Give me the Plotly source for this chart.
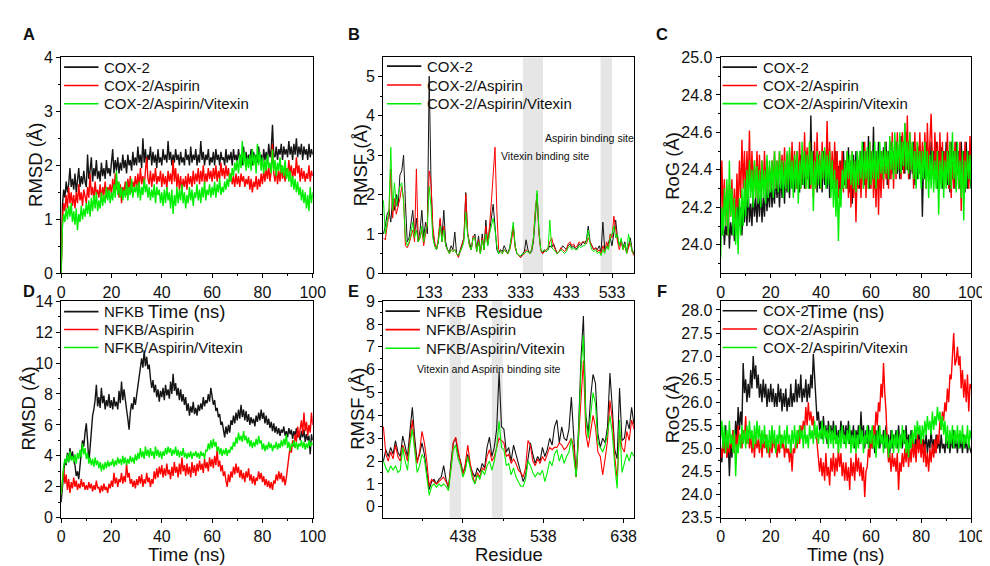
import plotly.graph_objects as go

# ---------------- DATA ----------------
time_ns = [i * 0.5 for i in range(201)]

# Panel A: RMSD COX-2
rmsd_cox2 = [
 0.0, 1.25, 1.55, 1.4, 1.7, 1.5, 1.65, 1.95, 1.6, 1.75,
 1.55, 1.85, 1.5, 1.7, 1.95, 1.6, 1.8, 1.65, 1.9, 1.7,
 1.6, 2.2, 1.75, 1.9, 2.15, 1.7, 1.95, 1.8, 2.1, 1.75,
 1.9, 1.7, 2.05, 1.8, 1.95, 1.75, 2.1, 1.85, 1.95, 1.8,
 2.0, 2.3, 1.85, 2.1, 1.9, 2.15, 1.85, 2.05, 1.9, 2.2,
 1.95, 2.1, 1.85, 2.2, 2.0, 2.1, 1.9, 2.25, 2.0, 2.15,
 2.0, 2.35, 2.05, 2.2, 1.95, 2.5, 2.05, 2.3, 2.0, 2.2,
 2.1, 2.35, 2.0, 2.25, 2.05, 2.2, 1.95, 2.3, 2.05, 2.15,
 2.0, 2.3, 2.1, 2.2, 2.05, 2.45, 2.1, 2.25, 2.0, 2.2,
 2.05, 2.3, 2.1, 2.2, 2.0, 2.25, 2.05, 2.15, 2.0, 2.3,
 2.1, 2.2, 2.0, 2.35, 2.05, 2.2, 2.1, 2.3, 2.0, 2.2,
 2.05, 2.45, 2.1, 2.25, 2.0, 2.2, 2.1, 2.3, 2.0, 2.15,
 2.05, 2.25, 2.0, 2.3, 2.1, 2.2, 2.0, 2.25, 2.1, 2.15,
 2.0, 2.3, 2.05, 2.2, 2.1, 2.25, 2.0, 2.3, 2.1, 2.2,
 2.05, 2.3, 2.1, 2.2, 2.0, 2.35, 2.1, 2.25, 2.05, 2.2,
 2.1, 2.3, 2.0, 2.25, 2.1, 2.2, 2.05, 2.35, 2.1, 2.2,
 2.0, 2.3, 2.1, 2.25, 2.05, 2.4, 2.15, 2.3, 2.75, 2.2,
 2.15, 2.35, 2.1, 2.3, 2.2, 2.4, 2.1, 2.35, 2.2, 2.3,
 2.15, 2.45, 2.2, 2.35, 2.1, 2.4, 2.2, 2.5, 2.15, 2.35,
 2.2, 2.4, 2.1, 2.35, 2.2, 2.3, 2.1, 2.4, 2.15, 2.3,
 2.2]
rmsd_cox2_asp = [
 0.0, 1.0, 1.3, 1.15, 1.45, 1.2, 1.6, 1.3, 1.5, 1.25,
 1.45, 1.2, 1.5, 1.3, 1.65, 1.35, 1.5, 1.25, 1.55, 1.4,
 1.3, 1.6, 1.4, 1.85, 1.45, 1.6, 1.35, 1.7, 1.45, 1.55,
 1.4, 1.65, 1.35, 1.6, 1.45, 1.7, 1.4, 1.6, 1.5, 1.65,
 1.45, 1.75, 1.5, 1.85, 1.55, 1.7, 1.4, 1.65, 1.3, 1.6,
 1.5, 1.7, 1.45, 1.75, 1.55, 1.8, 1.5, 1.7, 1.6, 1.8,
 1.55, 1.85, 1.6, 1.95, 1.65, 1.8, 1.6, 1.9, 2.15, 1.75,
 1.65, 1.9, 1.6, 1.85, 1.7, 1.95, 1.65, 1.8, 1.7, 1.9,
 1.6, 1.85, 1.65, 1.8, 1.55, 1.9, 1.7, 1.85, 1.65, 2.1,
 1.7, 1.95, 1.6, 1.85, 1.55, 1.8, 1.5, 1.75, 1.6, 1.8,
 1.55, 1.85, 1.65, 1.8, 1.6, 1.9, 1.65, 1.85, 1.7, 1.95,
 1.65, 1.9, 1.7, 2.0, 1.65, 1.85, 1.7, 1.95, 1.75, 1.9,
 1.7, 1.95, 1.75, 2.0, 1.7, 1.9, 1.75, 2.05, 1.8, 1.95,
 1.75, 2.0, 1.8, 1.95, 1.7, 1.85, 1.65, 1.8, 1.6, 1.85,
 1.65, 1.8, 1.6, 1.85, 1.7, 1.8, 1.6, 1.75, 1.65, 1.8,
 1.55, 1.75, 1.5, 1.7, 1.6, 1.8, 1.55, 1.75, 1.6, 1.85,
 1.65, 1.9, 1.7, 1.95, 1.75, 2.0, 1.7, 1.9, 2.4, 1.85,
 1.7, 1.95, 1.65, 1.9, 1.7, 2.0, 1.75, 1.9, 1.7, 1.95,
 1.8, 2.1, 1.85, 2.0, 1.75, 1.95, 1.8, 2.15, 1.85, 2.0,
 1.7, 1.95, 1.75, 1.9, 1.7, 1.85, 1.75, 2.0, 1.7, 1.9,
 1.8]
rmsd_cox2_asp_vit = [
 0.0, 0.85, 1.1, 0.95, 1.2, 1.0, 1.25, 1.05, 1.3, 0.95,
 1.15, 0.9, 1.2, 0.8, 1.1, 0.95, 1.25, 1.0, 1.2, 1.05,
 1.3, 1.1, 1.35, 1.05, 1.4, 1.15, 1.45, 1.2, 1.5, 1.15,
 1.35, 1.2, 1.5, 1.25, 1.45, 1.3, 1.6, 1.35, 1.55, 1.3,
 1.5, 1.35, 1.65, 1.4, 1.9, 1.45, 1.7, 1.4, 1.6, 1.35,
 1.55, 1.4, 1.7, 1.35, 1.6, 1.45, 1.75, 1.4, 1.6, 1.5,
 1.65, 1.4, 1.7, 1.35, 1.6, 1.45, 1.75, 1.5, 1.65, 1.4,
 1.6, 1.35, 1.55, 1.4, 1.65, 1.3, 1.6, 1.45, 1.55, 1.3,
 1.5, 1.25, 1.55, 1.3, 1.6, 1.35, 1.5, 1.2, 1.55, 1.1,
 1.45, 1.25, 1.6, 1.3, 1.55, 1.35, 1.65, 1.3, 1.5, 1.2,
 1.45, 1.3, 1.6, 1.35, 1.55, 1.25, 1.5, 1.4, 1.65, 1.35,
 1.55, 1.3, 1.6, 1.4, 1.7, 1.35, 1.55, 1.45, 1.65, 1.4,
 1.6, 1.45, 1.7, 1.4, 1.65, 1.5, 1.75, 1.45, 1.6, 1.5,
 1.7, 1.55, 1.75, 1.6, 1.85, 1.7, 1.95, 1.8, 2.05, 1.9,
 2.1, 1.85, 2.2, 1.95, 2.45, 2.0, 2.25, 1.9, 2.15, 1.95,
 2.2, 1.9, 2.3, 2.0, 2.2, 1.85, 2.4, 2.0, 2.25, 1.9,
 2.15, 1.85, 2.1, 1.9, 2.2, 1.95, 2.05, 1.85, 2.3, 1.9,
 2.1, 1.8, 2.05, 1.9, 2.15, 1.85, 2.0, 1.8, 2.1, 1.75,
 1.95, 1.7, 1.9, 1.6, 1.8, 1.55, 1.75, 1.5, 1.7, 1.45,
 1.6, 1.35, 1.55, 1.3, 1.5, 1.2, 1.45, 1.15, 1.6, 1.3,
 1.5]

# Panel B: RMSF COX-2
res_cox2 = list(range(33, 582, 4))
rmsf_cox2 = [
 1.0, 1.2, 1.5, 1.6, 1.3, 1.9, 1.6, 2.0, 1.7, 2.5,
 2.6, 3.0, 1.8, 0.8, 0.9, 1.2, 1.6, 1.0, 1.4, 0.8,
 1.1, 1.6, 0.9, 1.3, 1.0, 5.0, 2.3, 1.0, 0.7, 0.6,
 0.8, 1.35, 0.9, 1.6, 0.8, 0.6, 0.55, 0.7, 0.6, 1.05,
 0.5, 0.45, 0.6, 0.7, 0.9, 2.05, 1.0, 0.8, 0.6, 0.9,
 1.0, 0.6, 0.95, 0.5, 1.0, 0.6, 1.35, 0.7, 1.1, 1.4,
 1.75, 1.2, 0.6, 0.5, 0.6, 0.55, 0.7, 0.6, 0.5, 0.65,
 0.9, 1.2, 0.7, 0.5, 0.45, 0.4, 0.5, 0.55, 0.85, 0.6,
 0.5, 0.55, 0.8, 1.5, 2.0, 1.1, 0.6, 0.5, 0.6, 0.55,
 0.6, 0.7, 0.65, 0.75, 0.6, 0.5, 0.55, 0.6, 0.7, 0.65,
 0.6, 0.7, 0.75, 0.65, 0.7, 0.6, 0.65, 0.75, 0.7, 0.8,
 0.75, 0.85, 1.2, 0.8, 0.7, 0.6, 0.65, 0.6, 0.7, 0.55,
 1.3, 0.6, 0.65, 0.8, 0.9, 0.7, 1.0, 1.35, 0.9, 0.7,
 0.85, 0.65, 0.8, 0.55, 0.7, 0.9, 0.6, 0.5]
rmsf_cox2_asp = [
 0.9, 0.85, 1.2, 1.5, 2.65, 1.4, 1.9, 1.5, 1.7, 1.9,
 2.2, 1.9, 0.7, 0.65, 0.75, 0.9, 1.1, 0.8, 2.65, 0.8,
 0.9, 1.1, 0.7, 1.0, 1.3, 2.6, 2.3, 1.2, 0.8, 0.6,
 0.9, 1.4, 0.8, 1.2, 0.7, 0.6, 0.5, 0.6, 0.55, 0.6,
 0.5, 0.4, 0.55, 0.7, 0.9, 2.0, 1.1, 0.7, 0.6, 0.95,
 0.9, 0.55, 0.85, 0.5, 0.9, 0.6, 1.2, 0.8, 1.2, 1.8,
 2.6, 3.2, 1.6, 0.6, 0.55, 0.5, 0.6, 0.55, 0.5, 0.6,
 0.8, 1.2, 0.65, 0.5, 0.45, 0.4, 0.45, 0.5, 0.6, 0.55,
 0.5, 0.6, 0.9, 1.6, 2.0, 1.0, 0.6, 0.5, 0.55, 0.6,
 0.65, 0.8, 0.9, 0.7, 0.6, 0.5, 0.55, 0.65, 0.6, 0.55,
 0.6, 0.75, 0.8, 0.7, 0.75, 0.65, 0.7, 0.8, 0.75, 0.8,
 0.8, 0.75, 0.9, 0.8, 0.7, 0.6, 0.65, 0.55, 0.6, 0.5,
 0.7, 0.55, 0.8, 0.65, 1.0, 0.9, 1.45, 1.1, 0.8, 0.6,
 0.8, 0.6, 0.7, 0.5, 0.65, 0.8, 0.55, 0.45]
rmsf_cox2_asp_vit = [
 1.85, 1.0, 1.3, 1.6, 3.2, 1.6, 2.3, 1.7, 2.0, 2.2,
 2.3, 1.8, 0.9, 0.7, 0.8, 1.0, 1.3, 0.9, 1.1, 0.8,
 0.9, 1.2, 0.8, 1.1, 1.2, 2.2, 1.7, 0.9, 0.7, 0.6,
 0.8, 1.2, 0.8, 1.1, 0.7, 0.6, 0.5, 0.6, 0.55, 0.6,
 0.5, 0.45, 0.55, 0.65, 0.8, 1.55, 1.0, 0.7, 0.6, 0.9,
 0.9, 0.55, 0.8, 0.5, 0.85, 0.6, 1.0, 0.7, 1.0, 1.2,
 1.4, 1.1, 0.7, 0.5, 0.55, 0.5, 0.6, 0.55, 0.5, 0.6,
 1.0, 1.3, 0.7, 0.5, 0.45, 0.45, 0.5, 0.5, 0.55, 0.55,
 0.5, 0.6, 0.9, 1.5, 2.1, 1.1, 0.6, 0.55, 0.6, 0.55,
 0.6, 1.35, 0.65, 0.6, 0.55, 0.5, 0.55, 0.6, 0.55, 0.5,
 0.55, 0.65, 0.7, 0.6, 0.65, 0.6, 0.6, 0.7, 0.65, 0.7,
 0.7, 0.8, 1.1, 0.75, 0.6, 0.55, 0.6, 0.5, 0.55, 0.45,
 0.6, 0.5, 0.7, 0.6, 0.9, 1.0, 1.2, 0.9, 1.0, 0.7,
 0.9, 0.6, 0.75, 0.5, 1.0, 0.8, 0.55, 0.5]
cox2_sites = [(338, 382), (508, 533)]

# Panel C: RoG COX-2
rog_cox2 = [
 24.2, 24.05, 24.15, 24.0, 24.1, 24.05, 24.2, 23.98, 24.12, 24.05,
 24.15, 24.02, 24.2, 24.08, 24.25, 24.1, 24.2, 24.05, 24.22, 24.12,
 24.25, 24.1, 24.3, 24.12, 24.22, 24.1, 24.28, 24.15, 24.25, 24.12,
 24.28, 24.15, 24.3, 24.12, 24.25, 24.15, 24.32, 24.18, 24.3, 24.2,
 24.35, 24.2, 24.3, 24.22, 24.38, 24.25, 24.35, 24.2, 24.4, 24.25,
 24.35, 24.22, 24.42, 24.28, 24.38, 24.25, 24.45, 24.3, 24.4, 24.28,
 24.45, 24.3, 24.42, 24.28, 24.48, 24.32, 24.45, 24.3, 24.5, 24.35,
 24.45, 24.3, 24.69, 24.35, 24.5, 24.32, 24.45, 24.28, 24.48, 24.3,
 24.42, 24.28, 24.5, 24.32, 24.45, 24.3, 24.48, 24.25, 24.42, 24.3,
 24.45, 24.28, 24.5, 24.3, 24.42, 24.25, 24.45, 24.3, 24.5, 24.32,
 24.45, 24.3, 24.52, 24.28, 24.45, 24.22, 24.48, 24.3, 24.5, 24.32,
 24.45, 24.3, 24.5, 24.35, 24.55, 24.32, 24.5, 24.35, 24.58, 24.3,
 24.5, 24.35, 24.63, 24.3, 24.5, 24.35, 24.55, 24.3, 24.5, 24.35,
 24.52, 24.38, 24.55, 24.32, 24.5, 24.35, 24.55, 24.38, 24.5, 24.4,
 24.55, 24.38, 24.5, 24.35, 24.58, 24.4, 24.55, 24.38, 24.6, 24.4,
 24.55, 24.35, 24.5, 24.38, 24.55, 24.32, 24.5, 24.35, 24.52, 24.38,
 24.5, 24.15, 24.45, 24.35, 24.55, 24.38, 24.5, 24.35, 24.55, 24.4,
 24.5, 24.35, 24.55, 24.3, 24.5, 24.35, 24.52, 24.3, 24.5, 24.38,
 24.55, 24.32, 24.5, 24.28, 24.55, 24.35, 24.5, 24.3, 24.55, 24.38,
 24.5, 24.3, 24.55, 24.35, 24.5, 24.28, 24.55, 24.3, 24.5, 24.35,
 24.3]
rog_cox2_asp = [
 24.1, 24.45, 24.15, 24.35, 24.1, 24.3, 24.05, 24.32, 24.15, 24.35,
 24.12, 24.3, 24.1, 24.38, 24.2, 24.45, 24.25, 24.56, 24.3, 24.5,
 24.25, 24.5, 24.3, 24.61, 24.28, 24.5, 24.3, 24.45, 24.25, 24.5,
 24.3, 24.48, 24.28, 24.45, 24.3, 24.5, 24.32, 24.45, 24.28, 24.42,
 24.3, 24.45, 24.32, 24.5, 24.3, 24.45, 24.35, 24.5, 24.32, 24.48,
 24.35, 24.52, 24.3, 24.48, 24.35, 24.5, 24.32, 24.55, 24.35, 24.5,
 24.3, 24.5, 24.35, 24.55, 24.3, 24.5, 24.35, 24.6, 24.3, 24.52,
 24.35, 24.55, 24.3, 24.5, 24.25, 24.55, 24.3, 24.6, 24.35, 24.5,
 24.3, 24.55, 24.35, 24.5, 24.4, 24.66, 24.35, 24.55, 24.3, 24.5,
 24.32, 24.55, 24.3, 24.5, 24.25, 24.45, 24.3, 24.5, 24.28, 24.45,
 24.3, 24.5, 24.25, 24.45, 24.2, 24.5, 24.25, 24.45, 24.12, 24.4,
 24.3, 24.5, 24.25, 24.45, 24.3, 24.55, 24.25, 24.5, 24.3, 24.55,
 24.3, 24.5, 24.25, 24.45, 24.2, 24.5, 24.16, 24.45, 24.25, 24.5,
 24.3, 24.55, 24.35, 24.5, 24.3, 24.55, 24.35, 24.6, 24.3, 24.55,
 24.35, 24.6, 24.4, 24.55, 24.35, 24.6, 24.38, 24.65, 24.4, 24.69,
 24.35, 24.6, 24.4, 24.55, 24.3, 24.6, 24.35, 24.55, 24.4, 24.6,
 24.35, 24.55, 24.4, 24.6, 24.3, 24.65, 24.4, 24.6, 24.7, 24.45,
 24.35, 24.6, 24.4, 24.55, 24.3, 24.6, 24.35, 24.55, 24.3, 24.5,
 24.35, 24.6, 24.3, 24.55, 24.25, 24.5, 24.3, 24.55, 24.35, 24.5,
 24.3, 24.55, 24.18, 24.5, 24.3, 24.55, 24.35, 24.5, 24.3, 24.58,
 24.4]
rog_cox2_asp_vit = [
 23.93, 24.2, 24.05, 24.3, 24.1, 24.35, 24.05, 24.45, 24.15, 24.3,
 24.05, 24.25, 24.0, 24.2, 23.95, 24.25, 24.05, 24.3, 24.1, 24.35,
 24.15, 24.4, 24.2, 24.45, 24.25, 24.4, 24.2, 24.45, 24.25, 24.42,
 24.22, 24.4, 24.2, 24.45, 24.25, 24.4, 24.22, 24.48, 24.25, 24.45,
 24.28, 24.45, 24.25, 24.5, 24.3, 24.45, 24.28, 24.5, 24.3, 24.45,
 24.25, 24.45, 24.3, 24.5, 24.28, 24.52, 24.3, 24.45, 24.25, 24.48,
 24.3, 24.5, 24.22, 24.45, 24.3, 24.55, 24.32, 24.5, 24.3, 24.48,
 24.3, 24.55, 24.32, 24.5, 24.18, 24.45, 24.3, 24.5, 24.32, 24.48,
 24.3, 24.5, 24.35, 24.52, 24.3, 24.48, 24.32, 24.5, 24.25, 24.45,
 24.2, 24.4, 24.15, 24.35, 24.02, 24.3, 24.2, 24.4, 24.3, 24.45,
 24.3, 24.5, 24.35, 24.48, 24.32, 24.5, 24.3, 24.45, 24.28, 24.5,
 24.32, 24.5, 24.35, 24.55, 24.3, 24.5, 24.35, 24.52, 24.3, 24.55,
 24.32, 24.5, 24.35, 24.55, 24.3, 24.5, 24.35, 24.55, 24.38, 24.5,
 24.35, 24.55, 24.38, 24.5, 24.35, 24.58, 24.4, 24.55, 24.35, 24.6,
 24.38, 24.55, 24.4, 24.6, 24.38, 24.55, 24.42, 24.65, 24.4, 24.55,
 24.38, 24.6, 24.4, 24.55, 24.35, 24.5, 24.3, 24.55, 24.35, 24.5,
 24.3, 24.5, 24.35, 24.55, 24.3, 24.5, 24.25, 24.48, 24.3, 24.5,
 24.28, 24.45, 24.3, 24.5, 24.16, 24.45, 24.3, 24.5, 24.25, 24.45,
 24.3, 24.5, 24.32, 24.55, 24.3, 24.6, 24.35, 24.5, 24.28, 24.55,
 24.3, 24.45, 24.25, 24.5, 24.13, 24.45, 24.3, 24.5, 24.35, 24.48,
 24.3]

# Panel D: RMSD NFKB
rmsd_nfkb = [
 1.0, 2.0, 3.2, 3.8, 3.4, 4.2, 3.6, 4.5, 3.8, 4.3,
 3.7, 3.4, 2.7, 3.0, 2.5, 3.6, 4.2, 5.0, 4.6, 5.5,
 6.1, 5.0, 3.6, 4.5, 5.5, 6.6, 7.0, 7.6, 8.6, 7.2,
 7.8, 7.1, 8.4, 7.4, 7.9, 7.0, 7.6, 7.2, 8.0, 7.1,
 7.6, 7.0, 7.8, 7.2, 7.5, 7.0, 8.2, 7.4, 8.8, 7.6,
 8.3, 7.5, 7.0, 6.4, 5.7, 6.8, 7.4, 7.0, 7.8, 7.3,
 7.9, 8.5, 9.2, 9.6, 10.3, 9.7, 10.8, 9.8, 10.4, 9.6,
 9.9, 9.0, 8.4, 8.9, 8.1, 8.6, 7.8, 8.3, 7.5, 8.2,
 7.8, 8.4, 7.6, 8.6, 7.9, 8.3, 7.7, 8.8, 8.0, 9.3,
 8.2, 8.7, 7.9, 8.4, 7.6, 8.3, 7.5, 8.0, 7.3, 7.8,
 6.9, 7.4, 6.6, 7.2, 6.8, 7.5, 6.7, 7.1, 6.6, 7.3,
 6.9, 7.4, 7.0, 7.8, 7.2, 7.6, 7.4, 8.0, 7.5, 8.4,
 7.8, 7.3, 7.6, 6.9, 7.1, 6.5, 6.7, 6.0, 6.2, 5.6,
 5.2, 5.9, 5.4, 6.0, 5.5, 6.3, 6.0, 6.6, 6.1, 6.8,
 6.3, 7.0, 6.4, 7.3, 6.5, 7.0, 6.3, 6.9, 6.2, 6.7,
 6.0, 6.5, 6.1, 6.4, 5.9, 6.6, 6.2, 6.8, 6.3, 7.0,
 6.4, 6.8, 6.1, 6.6, 6.0, 6.4, 5.8, 6.2, 5.6, 6.1,
 5.5, 5.9, 5.4, 5.8, 5.3, 5.7, 5.5, 5.9, 5.3, 5.6,
 5.2, 5.8, 5.4, 5.7, 5.1, 5.6, 5.3, 5.8, 5.2, 5.5,
 5.0, 5.6, 5.2, 5.7, 4.9, 5.4, 5.0, 5.3, 4.1, 5.4,
 5.0]
rmsd_nfkb_asp = [
 1.5, 2.4, 3.2, 2.2, 2.8, 1.8, 2.5, 1.6, 2.3, 1.9,
 2.6, 2.0, 2.4, 1.8, 2.2, 1.9, 2.5, 2.0, 2.3, 1.8,
 2.1, 1.8, 2.3, 1.9, 2.2, 1.7, 2.1, 1.8, 2.4, 1.9,
 2.0, 1.6, 2.1, 1.7, 2.2, 1.8, 2.0, 1.6, 2.2, 1.9,
 2.4, 2.0, 2.9, 2.2, 2.6, 2.0, 2.5, 2.3, 2.9, 2.2,
 2.7, 2.3, 3.5, 2.6, 2.9, 2.2, 2.5, 2.0, 2.4, 1.9,
 2.5, 2.1, 2.7, 2.2, 2.8, 2.0, 2.5, 2.2, 2.9, 2.3,
 2.6, 2.0, 2.5, 2.2, 3.0, 2.5, 3.2, 2.6, 3.3, 2.8,
 3.4, 2.6, 3.2, 2.7, 3.5, 2.8, 3.1, 2.5, 3.3, 2.7,
 3.6, 2.9, 3.3, 2.6, 3.5, 2.8, 3.9, 3.0, 3.4, 2.7,
 3.5, 2.8, 3.3, 2.6, 3.6, 2.9, 3.4, 2.7, 3.5, 3.0,
 3.7, 3.1, 3.5, 2.9, 3.8, 3.2, 3.6, 3.0, 3.9, 3.3,
 3.8, 3.2, 4.0, 3.4, 4.4, 3.3, 3.7, 3.0, 3.4, 2.7,
 3.0, 2.4, 2.0, 2.8, 2.3, 3.0, 2.6, 3.3, 2.8, 3.5,
 2.9, 3.3, 2.6, 3.1, 2.5, 2.9, 2.3, 3.0, 2.6, 3.2,
 2.4, 2.8, 2.2, 2.7, 2.1, 2.6, 2.4, 3.0, 2.5, 2.9,
 2.3, 2.7, 2.1, 2.5, 2.0, 2.4, 1.9, 2.3, 1.8, 2.4,
 2.2, 2.8, 2.4, 3.0, 2.5, 2.9, 2.3, 2.7, 2.1, 2.6,
 3.2, 4.0, 4.6, 4.2, 5.0, 4.6, 5.4, 4.9, 5.9, 5.2,
 5.7, 6.3, 5.4, 6.8, 5.6, 6.2, 5.3, 6.0, 5.5, 6.8,
 6.0]
rmsd_nfkb_asp_vit = [
 1.5, 2.6, 3.3, 3.8, 3.5, 4.1, 3.6, 4.3, 3.7, 4.0,
 3.6, 4.1, 3.5, 4.2, 3.8, 4.4, 3.9, 4.8, 4.1, 4.5,
 3.8, 4.2, 3.5, 3.9, 3.4, 3.8, 3.3, 3.9, 3.4, 3.7,
 3.2, 3.6, 3.0, 3.5, 3.1, 3.6, 3.2, 3.7, 3.3, 3.6,
 3.4, 3.8, 3.3, 3.7, 3.4, 3.9, 3.5, 3.8, 3.4, 4.0,
 3.5, 3.9, 3.4, 3.8, 3.5, 4.0, 3.6, 3.9, 3.5, 4.1,
 3.7, 4.2, 3.8, 4.5, 3.9, 4.3, 3.8, 4.6, 4.0, 4.4,
 3.9, 4.5, 4.0, 4.3, 3.8, 4.6, 4.0, 4.4, 3.9, 4.3,
 3.8, 4.3, 4.0, 4.5, 4.1, 4.6, 4.2, 4.5, 4.0, 4.4,
 4.1, 4.6, 4.0, 4.4, 3.9, 4.3, 4.0, 4.5, 3.9, 4.2,
 3.8, 4.2, 3.9, 4.3, 3.8, 4.2, 4.0, 4.3, 3.9, 4.2,
 3.8, 4.3, 4.0, 4.2, 3.8, 4.4, 4.3, 4.8, 4.4, 5.0,
 4.5, 5.1, 4.6, 4.9, 4.3, 4.6, 4.1, 4.5, 4.0, 4.4,
 4.1, 4.5, 4.0, 4.4, 4.2, 4.6, 4.4, 4.9, 4.6, 5.2,
 4.8, 5.5, 5.0, 5.3, 4.9, 5.6, 5.0, 5.3, 4.8, 5.2,
 4.6, 5.0, 4.5, 4.9, 4.6, 5.1, 4.7, 5.3, 4.8, 5.0,
 4.4, 4.8, 4.3, 4.7, 4.4, 4.9, 4.5, 4.8, 4.3, 4.7,
 4.5, 4.9, 4.4, 4.8, 4.5, 5.0, 4.6, 5.1, 4.7, 5.4,
 4.5, 4.9, 4.3, 4.8, 4.6, 5.0, 4.5, 4.9, 4.4, 4.8,
 4.6, 5.0, 4.5, 4.9, 4.4, 4.8, 4.5, 5.0, 4.6, 4.9,
 4.7]

# Panel E: RMSF NFKB
res_nfkb = list(range(339, 652, 3))
rmsf_nfkb = [
 2.0, 2.5, 2.2, 2.6, 2.3, 2.9, 2.4, 2.2, 3.1, 2.6,
 2.2, 3.3, 4.35, 3.0, 2.0, 2.3, 2.8, 2.3, 1.6, 0.75,
 1.1, 1.2, 1.0, 1.2, 1.3, 1.8, 1.2, 0.8, 1.9, 2.8,
 3.0, 2.3, 2.0, 1.5, 1.7, 2.3, 1.8, 1.5, 1.3, 1.7,
 1.5, 1.9, 1.7, 2.6, 3.05, 2.2, 2.6, 3.4, 5.9, 3.5,
 3.4, 2.4, 2.6, 2.0, 2.7, 2.3, 1.8, 1.4, 1.1, 1.4,
 2.1, 2.8, 2.3, 1.9, 2.2, 2.0, 2.6, 2.2, 2.5, 3.0,
 2.7, 3.5, 3.8, 2.8, 3.5, 3.0, 2.9, 3.4, 4.8, 3.0,
 1.3, 3.5, 6.5, 8.35, 4.0, 3.2, 4.8, 5.8, 5.4, 3.2,
 2.6, 3.0, 2.8, 3.5, 5.85, 4.3, 2.5, 2.1, 5.2, 2.9,
 3.0, 3.8, 3.4, 4.35, 3.6]
rmsf_nfkb_asp = [
 3.5, 2.3, 2.0, 2.4, 2.1, 2.7, 2.2, 2.0, 2.7, 2.4,
 2.0, 3.0, 3.8, 2.6, 1.9, 2.4, 3.3, 2.8, 2.0, 0.9,
 1.2, 1.1, 1.0, 1.1, 1.2, 1.3, 1.1, 0.9, 1.7, 2.8,
 3.05, 2.4, 1.9, 1.4, 1.9, 2.7, 1.9, 1.4, 1.0, 1.5,
 1.3, 1.7, 1.6, 2.2, 2.5, 2.0, 2.2, 2.6, 3.0, 2.9,
 2.8, 2.2, 2.3, 1.9, 2.1, 1.9, 1.6, 1.5, 1.3, 1.7,
 2.9, 2.7, 2.0, 1.8, 2.1, 1.9, 2.2, 2.0, 2.3, 2.6,
 2.5, 2.6, 2.6, 2.8, 2.7, 2.5, 2.6, 2.8, 3.0, 2.6,
 1.3, 3.0, 5.0, 6.4, 3.2, 2.6, 3.3, 4.0, 3.5, 2.4,
 2.2, 1.4, 2.1, 2.9, 4.65, 3.8, 2.2, 1.2, 3.3, 2.6,
 2.4, 3.3, 2.9, 3.8, 3.4]
rmsf_nfkb_asp_vit = [
 2.0, 1.7, 1.5, 1.8, 1.6, 1.8, 1.5, 1.6, 2.6, 2.0,
 1.6, 2.7, 3.4, 2.4, 1.5, 1.8, 2.3, 2.1, 1.4, 0.5,
 0.9, 1.0, 0.85, 1.0, 0.9, 1.0, 0.9, 0.7, 1.6, 2.5,
 2.7, 2.1, 1.8, 1.3, 1.6, 2.2, 1.7, 1.2, 1.0, 1.4,
 1.2, 1.6, 1.4, 1.8, 2.0, 1.6, 2.0, 2.6, 3.75, 2.6,
 2.5, 1.8, 1.9, 1.4, 1.7, 1.3, 1.1, 0.9, 0.9, 1.2,
 2.0, 1.8, 1.5, 1.3, 1.5, 1.4, 1.6, 1.1, 1.5, 2.0,
 1.8, 2.3, 2.5, 2.0, 2.3, 1.9, 2.2, 2.4, 3.0, 2.2,
 1.3, 3.2, 6.0, 7.5, 3.8, 3.0, 4.0, 5.0, 4.5, 2.8,
 2.6, 2.4, 2.7, 3.2, 4.0, 3.2, 1.8, 0.8, 3.8, 1.5,
 1.9, 2.3, 2.0, 2.4, 2.2]
nfkb_sites = [(421.5, 435.5), (474, 487.5)]

# Panel F: RoG NFKB
rog_nfkb = [
 25.0, 24.7, 25.3, 24.9, 25.5, 24.8, 25.2, 24.4, 25.1, 24.8,
 25.4, 25.0, 25.6, 25.2, 25.9, 25.4, 25.8, 25.5, 26.85, 26.2,
 26.5, 26.0, 26.4, 26.1, 26.7, 26.3, 27.0, 26.5, 26.8, 26.3,
 26.6, 26.1, 26.4, 26.0, 26.5, 26.1, 26.4, 25.9, 26.3, 26.0,
 26.4, 26.0, 26.3, 25.9, 26.2, 25.9, 26.4, 26.0, 26.3, 25.8,
 26.2, 25.9, 26.3, 25.8, 26.1, 25.9, 26.4, 25.9, 26.2, 26.0,
 26.5, 26.0, 26.4, 26.1, 26.6, 26.0, 26.3, 26.1, 26.5, 26.0,
 26.4, 26.1, 26.6, 26.3, 27.05, 26.5, 26.0, 25.6, 25.8, 25.4,
 25.6, 25.2, 25.7, 25.3, 25.5, 25.1, 25.6, 25.3, 25.5, 25.2,
 25.6, 25.2, 25.5, 25.1, 25.4, 25.2, 25.6, 25.3, 25.5, 25.1,
 25.5, 25.2, 25.6, 25.1, 25.4, 25.2, 25.5, 25.0, 25.4, 25.2,
 25.5, 25.1, 25.8, 25.2, 25.5, 25.0, 25.4, 25.1, 25.5, 25.0,
 25.4, 25.0, 25.3, 24.9, 25.4, 25.1, 25.5, 25.0, 25.3, 25.1,
 25.4, 25.0, 25.5, 25.1, 25.3, 24.9, 25.4, 25.0, 25.3, 25.1,
 25.4, 25.0, 25.5, 25.1, 25.3, 25.0, 25.4, 25.1, 25.5, 25.0,
 25.3, 25.0, 25.4, 25.1, 25.2, 24.9, 25.3, 25.0, 25.4, 25.1,
 25.3, 24.9, 25.2, 25.0, 25.3, 24.9, 25.2, 25.0, 25.4, 25.0,
 25.2, 24.9, 25.3, 25.0, 25.2, 24.9, 25.3, 25.0, 25.1, 24.9,
 25.3, 25.0, 25.2, 24.9, 25.3, 25.0, 25.4, 25.0, 25.2, 24.9,
 25.3, 25.0, 25.2, 24.9, 25.3, 25.0, 25.2, 24.9, 25.1, 25.0,
 24.9]
rog_nfkb_asp = [
 25.0, 24.8, 25.2, 24.9, 25.3, 24.8, 25.1, 24.9, 25.3, 25.0,
 25.4, 24.9, 25.3, 25.0, 25.5, 25.1, 25.3, 25.0, 25.4, 25.2,
 25.7, 25.1, 25.4, 25.0, 25.3, 24.9, 25.2, 24.8, 25.3, 25.0,
 25.2, 24.9, 25.3, 24.8, 25.2, 25.0, 25.3, 24.9, 25.1, 24.8,
 25.2, 24.9, 25.3, 25.0, 25.2, 24.8, 25.1, 24.9, 25.3, 25.0,
 25.2, 24.8, 25.1, 24.9, 25.0, 24.7, 25.1, 24.5, 25.0, 24.9,
 25.2, 25.0, 25.4, 25.1, 25.5, 25.3, 25.6, 25.4, 25.9, 25.5,
 26.0, 25.6, 25.8, 25.5, 25.7, 25.3, 25.4, 25.0, 24.8, 24.5,
 24.8, 24.4, 24.7, 24.3, 24.9, 24.4, 24.6, 24.2, 24.8, 24.5,
 24.9, 24.4, 24.8, 24.5, 25.0, 24.6, 24.9, 24.4, 24.7, 24.3,
 24.7, 24.3, 24.6, 24.1, 24.8, 24.4, 24.7, 24.3, 24.9, 24.5,
 24.8, 24.4, 24.7, 24.3, 24.6, 23.95, 24.5, 24.6, 25.0, 24.8,
 25.3, 25.0, 25.5, 25.3, 25.8, 25.5, 26.0, 25.8, 26.4, 26.1,
 26.85, 26.2, 25.8, 25.1, 24.7, 24.9, 24.5, 24.9, 24.6, 24.8,
 24.5, 24.9, 24.1, 24.7, 24.5, 24.9, 24.6, 25.0, 24.7, 25.1,
 24.6, 25.0, 24.7, 25.2, 24.8, 25.1, 24.7, 25.3, 24.9, 25.2,
 24.8, 25.2, 24.7, 25.1, 24.6, 24.9, 24.5, 25.0, 24.7, 25.1,
 24.8, 25.2, 24.9, 25.3, 25.1, 25.6, 25.4, 25.8, 25.6, 26.0,
 25.8, 26.3, 26.0, 26.6, 26.5, 27.0, 27.5, 26.8, 26.9, 27.2,
 26.8, 27.0, 26.3, 26.7, 26.1, 26.5, 26.0, 26.6, 25.8, 26.4,
 26.3]
rog_nfkb_asp_vit = [
 25.2, 25.6, 25.0, 25.5, 24.9, 25.4, 25.0, 25.6, 25.1, 25.3,
 24.9, 25.4, 24.4, 25.1, 24.9, 25.3, 25.0, 25.5, 25.1, 25.4,
 25.0, 25.5, 25.1, 25.6, 25.2, 25.4, 25.0, 25.5, 25.1, 25.6,
 25.2, 25.5, 25.0, 25.4, 25.1, 25.5, 25.0, 25.3, 24.9, 25.4,
 25.0, 25.5, 25.1, 25.4, 24.9, 25.3, 25.1, 25.5, 25.0, 25.3,
 25.1, 25.4, 25.0, 25.5, 25.1, 25.3, 24.9, 25.4, 25.1, 25.5,
 25.0, 25.4, 25.1, 25.5, 25.2, 25.4, 25.0, 25.5, 25.1, 25.3,
 25.0, 25.5, 25.2, 25.4, 25.1, 25.6, 25.2, 25.5, 25.1, 25.4,
 25.2, 25.6, 25.1, 25.5, 25.2, 25.4, 25.0, 25.5, 25.1, 25.4,
 25.0, 25.5, 25.1, 25.3, 24.9, 25.4, 25.0, 25.5, 25.1, 25.3,
 25.0, 25.4, 25.1, 25.5, 24.9, 25.3, 25.0, 25.4, 24.9, 25.3,
 25.0, 25.5, 25.1, 25.4, 24.9, 25.3, 25.1, 25.5, 25.0, 25.4,
 25.1, 25.5, 25.0, 25.3, 24.8, 25.4, 25.0, 25.5, 25.1, 25.3,
 24.9, 25.4, 25.0, 25.3, 24.8, 25.2, 25.0, 25.4, 24.9, 25.3,
 25.0, 25.4, 24.9, 25.3, 25.0, 25.5, 25.1, 25.4, 24.9, 25.2,
 24.8, 25.3, 25.0, 25.4, 25.1, 25.5, 25.2, 25.6, 25.3, 25.5,
 25.1, 25.5, 25.2, 25.6, 25.3, 25.7, 25.4, 25.6, 25.3, 25.8,
 25.4, 25.7, 25.5, 25.9, 25.6, 25.8, 25.4, 25.7, 25.3, 25.6,
 25.1, 25.5, 25.0, 25.4, 25.1, 25.5, 25.0, 25.4, 25.1, 25.5,
 25.0, 25.4, 25.1, 25.5, 25.0, 25.3, 25.1, 25.5, 25.0, 25.4,
 25.2]

for name, arr in [("a1", rmsd_cox2), ("a2", rmsd_cox2_asp), ("a3", rmsd_cox2_asp_vit),
                  ("c1", rog_cox2), ("c2", rog_cox2_asp), ("c3", rog_cox2_asp_vit),
                  ("d1", rmsd_nfkb), ("d2", rmsd_nfkb_asp), ("d3", rmsd_nfkb_asp_vit),
                  ("f1", rog_nfkb), ("f2", rog_nfkb_asp), ("f3", rog_nfkb_asp_vit)]:
    assert len(arr) == len(time_ns), (name, len(arr))
for name, arr in [("b1", rmsf_cox2), ("b2", rmsf_cox2_asp), ("b3", rmsf_cox2_asp_vit)]:
    assert len(arr) == len(res_cox2), (name, len(arr))
for name, arr in [("e1", rmsf_nfkb), ("e2", rmsf_nfkb_asp), ("e3", rmsf_nfkb_asp_vit)]:
    assert len(arr) == len(res_nfkb), (name, len(arr))

names_cox2 = ["COX-2", "COX-2/Aspirin", "COX-2/Aspirin/Vitexin"]
names_nfkb = ["NFKB", "NFKB/Aspirin", "NFKB/Aspirin/Vitexin"]

# ---------------- STYLE ----------------
W, H = 990, 566
FONT = "Liberation Sans, Arial, sans-serif"
COLORS = ["#141414", "#ff0000", "#00ee00"]

def px_x(x):
    return x / W

def px_y(y):
    return 1 - y / H

cols = [(50, 306), (377.5, 633.3), (721, 976)]
rows = [(42.7, 265.3), (294, 517.3)]

fig = go.Figure()

panels = [
    (0, 0, time_ns, [rmsd_cox2, rmsd_cox2_asp, rmsd_cox2_asp_vit], names_cox2, 1.4),
    (0, 1, res_cox2, [rmsf_cox2, rmsf_cox2_asp, rmsf_cox2_asp_vit], names_cox2, 1.0),
    (0, 2, time_ns, [rog_cox2, rog_cox2_asp, rog_cox2_asp_vit], names_cox2, 1.4),
    (1, 0, time_ns, [rmsd_nfkb, rmsd_nfkb_asp, rmsd_nfkb_asp_vit], names_nfkb, 1.4),
    (1, 1, res_nfkb, [rmsf_nfkb, rmsf_nfkb_asp, rmsf_nfkb_asp_vit], names_nfkb, 1.1),
    (1, 2, time_ns, [rog_nfkb, rog_nfkb_asp, rog_nfkb_asp_vit], names_cox2, 1.4),
]

time_x = dict(range=[0, 100], tickmode="linear", tick0=0, dtick=20,
              minor=dict(tickmode="linear", tick0=0, dtick=10))
xcfg = [
    time_x,
    dict(range=[32, 582], tickmode="array", tickvals=[133, 233, 333, 433, 533],
         minor=dict(tickmode="array", tickvals=[83, 183, 283, 383, 483])),
    time_x,
    time_x,
    dict(range=[338.5, 651.5], tickmode="array", tickvals=[438, 538, 638],
         minor=dict(tickmode="array", tickvals=[388, 488, 588])),
    time_x,
]
ycfg = [
    dict(range=[0, 4], tickmode="linear", tick0=0, dtick=1,
         minor=dict(tickmode="linear", tick0=0, dtick=0.5)),
    dict(range=[0, 5.48], tickmode="linear", tick0=0, dtick=1,
         minor=dict(tickmode="linear", tick0=0, dtick=0.5)),
    dict(range=[23.848, 25.0], tickmode="linear", tick0=24.0, dtick=0.2, tickformat=".1f",
         minor=dict(tickmode="linear", tick0=24.0, dtick=0.1)),
    dict(range=[0, 14], tickmode="linear", tick0=0, dtick=2,
         minor=dict(tickmode="linear", tick0=0, dtick=1)),
    dict(range=[-0.48, 9], tickmode="linear", tick0=0, dtick=1,
         minor=dict(tickmode="linear", tick0=0, dtick=0.5)),
    dict(range=[23.5, 28.19], tickmode="linear", tick0=23.5, dtick=0.5, tickformat=".1f",
         minor=dict(tickmode="linear", tick0=23.5, dtick=0.25)),
]

layout = dict(width=W, height=H, margin=dict(l=0, r=0, t=0, b=0),
              paper_bgcolor="white", plot_bgcolor="white",
              font=dict(family=FONT, size=16, color="#111"),
              showlegend=False, shapes=[], annotations=[])

# legend placement: (line start x px, [row centre y px])
legend_geo = [
    (53, [52.7, 71.7, 90.5]),
    (381.5, [51.7, 71.2, 90.5]),
    (723, [52.7, 71.7, 90.3]),
    (53, [304.8, 323.2, 341.7]),
    (380, [304.3, 323.3, 342.5]),
    (723, [303.8, 322.7, 341.7]),
]

def ann(text, x, y, size, bold=False, angle=0, xanchor="center"):
    layout["annotations"].append(dict(
        text=f"<b>{text}</b>" if bold else text, x=px_x(x), y=px_y(y),
        xref="paper", yref="paper", xanchor=xanchor, yanchor="middle",
        showarrow=False, textangle=angle,
        font=dict(family=FONT, size=size, color="#111")))

for k, (r, c, xs, series, nms, lw) in enumerate(panels):
    idx = k + 1
    xa = "x" if idx == 1 else f"x{idx}"
    ya = "y" if idx == 1 else f"y{idx}"
    for s, nm, col in zip(series, nms, COLORS):
        fig.add_trace(go.Scatter(x=xs, y=s, mode="lines", name=nm,
                                 line=dict(color=col, width=lw),
                                 xaxis=xa, yaxis=ya))
    common = dict(showline=True, linecolor="black", linewidth=1, mirror=True,
                  ticks="outside", ticklen=4, tickwidth=1, tickcolor="black",
                  showgrid=False, zeroline=False,
                  tickfont=dict(family=FONT, size=16, color="#111"))
    xd = dict(common, domain=[px_x(cols[c][0]), px_x(cols[c][1])], anchor=ya)
    xd.update({kk: v for kk, v in xcfg[k].items() if kk != "minor"})
    xd["minor"] = dict(xcfg[k]["minor"], ticks="outside", ticklen=2, tickcolor="black", showgrid=False)
    yd = dict(common, domain=[px_y(rows[r][1]), px_y(rows[r][0])], anchor=xa)
    yd.update({kk: v for kk, v in ycfg[k].items() if kk != "minor"})
    yd["minor"] = dict(ycfg[k]["minor"], ticks="outside", ticklen=2, tickcolor="black", showgrid=False)
    layout["xaxis" if idx == 1 else f"xaxis{idx}"] = xd
    layout["yaxis" if idx == 1 else f"yaxis{idx}"] = yd
    # legend (drawn as line samples + text)
    lx, rys = legend_geo[k]
    for nm, col, ry in zip(nms, COLORS, rys):
        layout["shapes"].append(dict(type="line", xref="paper", yref="paper",
                                     x0=px_x(lx), x1=px_x(lx + 35), y0=px_y(ry), y1=px_y(ry),
                                     line=dict(color=col, width=1.6)))
        ann(nm, lx + 39, ry, 15, xanchor="left")

# binding-site bands
for (a, b) in cox2_sites:
    layout["shapes"].append(dict(type="rect", xref="x2", yref="y2 domain", x0=a, x1=b, y0=0, y1=1,
                                 fillcolor="#e6e6e6", line=dict(width=0), layer="below"))
for (a, b) in nfkb_sites:
    layout["shapes"].append(dict(type="rect", xref="x5", yref="y5 domain", x0=a, x1=b, y0=0, y1=1,
                                 fillcolor="#e6e6e6", line=dict(width=0), layer="below"))

# panel letters
for t, x, y in [("A", 17.5, 19), ("B", 347.5, 19), ("C", 661, 19),
                ("D", 17.5, 284), ("E", 347.5, 284), ("F", 661, 284)]:
    ann(t, x, y, 16.5, bold=True)

# axis titles
ann("Time (ns)", 178, 305, 18.5)
ann("Residue", 505.5, 305, 18.5)
ann("Time (ns)", 848.5, 305, 18.5)
ann("Time (ns)", 178, 555, 18.5)
ann("Residue", 505.5, 555, 18.5)
ann("Time (ns)", 848.5, 555, 18.5)
ann("RMSD (Å)", 24, 154, 18.5, angle=-90)
ann("RMSF (Å)", 354, 154, 18.5, angle=-90)
ann("RoG (Å)", 672, 154, 18.5, angle=-90)
ann("RMSD (Å)", 17, 405, 18.5, angle=-90)
ann("RMSF (Å)", 352, 405, 18.5, angle=-90)
ann("RoG (Å)", 672, 405, 18.5, angle=-90)

# site labels
ann("Aspirin binding site", 587.5, 126, 10.6)
ann("Vitexin binding site", 542, 144, 10.6)
ann("Vitexin and Aspirin binding site", 485, 364, 10.6)

fig.update_layout(**layout)
fig.write_html("out.html")
